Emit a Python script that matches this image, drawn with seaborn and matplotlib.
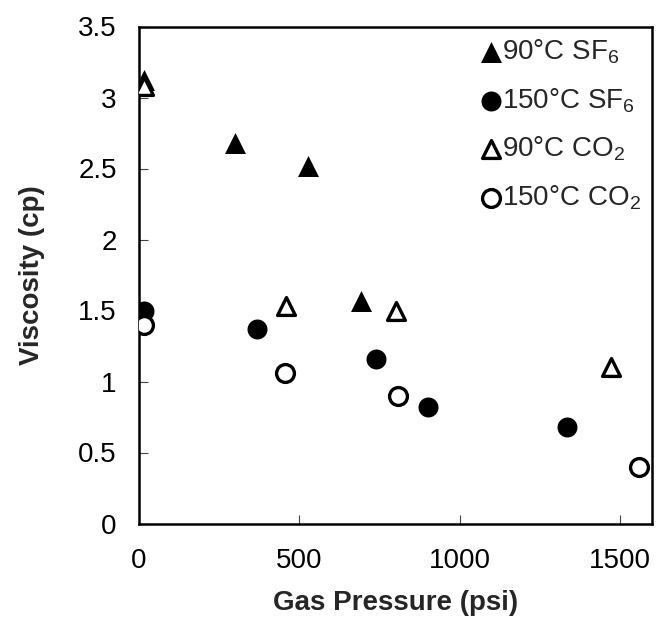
import matplotlib
matplotlib.use("Agg")
import matplotlib.pyplot as plt
import seaborn as sns
import pandas as pd
from matplotlib.ticker import FuncFormatter

# ---- data ----
p_90_sf6 = [15, 299, 528, 691]
v_90_sf6 = [3.12, 2.68, 2.52, 1.565]

p_150_sf6 = [15, 367, 738, 902, 1334]
v_150_sf6 = [1.50, 1.37, 1.16, 0.82, 0.68]

p_90_co2 = [15, 458, 802, 1472]
v_90_co2 = [3.08, 1.53, 1.50, 1.10]

p_150_co2 = [15, 455, 809, 1560]
v_150_co2 = [1.40, 1.06, 0.90, 0.40]

labels = ["90°C SF$_{\\mathrm{6}}$", "150°C SF$_{\\mathrm{6}}$",
          "90°C CO$_{\\mathrm{2}}$", "150°C CO$_{\\mathrm{2}}$"]
x_ticks = [0, 500, 1000, 1500]
y_ticks = [0, 0.5, 1, 1.5, 2, 2.5, 3, 3.5]

sns.set_theme(style="white")
plt.rcParams["font.family"] = ["Liberation Sans", "DejaVu Sans"]
plt.rcParams["mathtext.fontset"] = "custom"
plt.rcParams["mathtext.rm"] = "Liberation Sans"
plt.rcParams["mathtext.it"] = "Liberation Sans:italic"
plt.rcParams["mathtext.bf"] = "Liberation Sans:bold"

fig = plt.figure(figsize=(6.57, 6.35), dpi=100)
ax = fig.add_axes([139 / 657, 1 - 523.5 / 635, (652 - 139) / 657, (523.5 - 26.5) / 635])

series = [
    (p_90_sf6, v_90_sf6, labels[0], "^", True, 228),
    (p_150_sf6, v_150_sf6, labels[1], "o", True, 207),
    (p_90_co2, v_90_co2, labels[2], "^", False, 165),
    (p_150_co2, v_150_co2, labels[3], "o", False, 165),
]
for px, vy, lab, mk, filled, size in series:
    df = pd.DataFrame({"Gas Pressure (psi)": px, "Viscosity (cp)": vy})
    if filled:
        sns.scatterplot(data=df, x="Gas Pressure (psi)", y="Viscosity (cp)", ax=ax,
                        marker=mk, s=size, color="black", edgecolor="black",
                        linewidth=0, label=lab, zorder=3)
    else:
        sns.scatterplot(data=df, x="Gas Pressure (psi)", y="Viscosity (cp)", ax=ax,
                        marker=mk, s=size, facecolor="white", edgecolor="black",
                        linewidth=2.4, label=lab, zorder=3)

ax.set_xlim(0, 1600)
ax.set_ylim(0, 3.5)
ax.set_xticks(x_ticks)
ax.set_yticks(y_ticks)
ax.yaxis.set_major_formatter(FuncFormatter(lambda v, p: f"{v:g}"))
ax.tick_params(direction="in", length=6.5, width=0.8, color="#444444",
               labelsize=20, labelcolor="black", bottom=True, left=True)
ax.tick_params(axis="x", pad=18)
ax.tick_params(axis="y", pad=16)
for sp in ax.spines.values():
    sp.set_visible(True)
    sp.set_color("black")
    sp.set_linewidth(1.8)

ax.set_xlabel("Gas Pressure (psi)", fontsize=20, fontweight="bold", labelpad=11)
ax.set_ylabel("Viscosity (cp)", fontsize=20, fontweight="bold", labelpad=24)

leg = ax.legend(loc="upper right", frameon=False, fontsize=20, handlelength=0.6,
                handletextpad=0.1, labelspacing=0.72, borderaxespad=0.25,
                borderpad=0.15)
for h, (_, _, _, _, _, size) in zip(leg.legend_handles, series):
    h.set_sizes([size])

fig.savefig("out.png", dpi=100)
